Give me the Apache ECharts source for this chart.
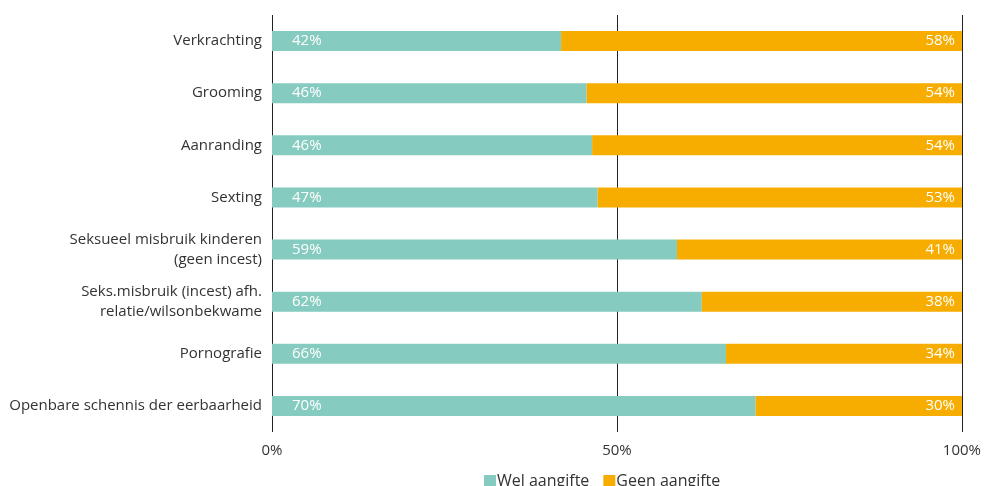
<!DOCTYPE html>
<html><head><meta charset="utf-8">
<script src="https://cdn.jsdelivr.net/npm/echarts@6/dist/echarts.min.js"></script>
<style>html,body{margin:0;padding:0;background:#fff}#c{width:984px;height:486px}</style>
</head><body><div id="c"></div>
<script>
const categories = ["Verkrachting","Grooming","Aanranding","Sexting","Seksueel misbruik kinderen\n(geen incest)","Seks.misbruik (incest) afh.\nrelatie/wilsonbekwame","Pornografie","Openbare schennis der eerbaarheid"];
const welAangifte = [41.9, 45.6, 46.4, 47.2, 58.7, 62.3, 65.8, 70.1];
const geenAangifte = [58.1, 54.4, 53.6, 52.8, 41.3, 37.7, 34.2, 29.9];
const welLabels = ["42%","46%","46%","47%","59%","62%","66%","70%"];
const geenLabels = ["58%","54%","54%","53%","41%","38%","34%","30%"];
const xTicks = [0, 50, 100];
const font = "'Open Sans', 'Noto Sans', sans-serif";
const chart = echarts.init(document.getElementById('c'));
chart.setOption({
  animation:false,
  textStyle:{fontFamily:font},
  grid:{left:272,right:22,top:15,bottom:54,containLabel:false},
  legend:{left:479,top:468,itemWidth:12,itemHeight:12,itemGap:14,icon:'rect',
    textStyle:{fontSize:16,color:'#333',fontFamily:font,padding:[0,0,0,-4]},
    data:['Wel aangifte','Geen aangifte']},
  xAxis:{type:'value',min:0,max:100,interval:50,
    axisLine:{show:false},axisTick:{show:false},
    splitLine:{show:true,lineStyle:{color:'#222',width:1}},
    axisLabel:{color:'#333',fontSize:15,margin:11,formatter:v=>xTicks.includes(v)?v+'%':''}},
  yAxis:{type:'category',data:categories,inverse:true,
    axisLine:{show:false},axisTick:{show:false},
    axisLabel:{color:'#333',fontSize:15,margin:10,lineHeight:20,align:'right'}},
  series:[
    {name:'Wel aangifte',type:'bar',stack:'t',data:welAangifte,barWidth:20,
     itemStyle:{color:'#86cbbf'},
     label:{show:true,position:'insideLeft',distance:20,color:'#fff',fontSize:15,fontFamily:font,
       formatter:p=>welLabels[p.dataIndex]}},
    {name:'Geen aangifte',type:'bar',stack:'t',data:geenAangifte,barWidth:20,
     itemStyle:{color:'#f7ad00'},
     label:{show:true,position:'insideRight',distance:7,color:'#fff',fontSize:15,fontFamily:font,
       formatter:p=>geenLabels[p.dataIndex]}}
  ]
});
</script></body></html>
